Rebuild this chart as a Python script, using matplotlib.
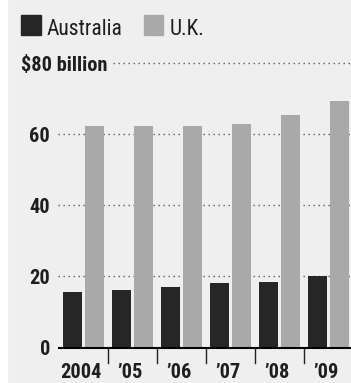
import matplotlib
matplotlib.use("Agg")
import matplotlib.pyplot as plt
from matplotlib.patches import Rectangle
import numpy as np

years = ["2004", "’05", "’06", "’07", "’08", "’09"]
australia = [15.6, 16.2, 17.1, 18.1, 18.5, 20.1]
uk = [62.4, 62.4, 62.2, 62.9, 65.5, 69.3]
yticks = [0, 20, 40, 60]
series_names = ["Australia", "U.K."]

plt.rcParams['font.family'] = ["Roboto Condensed", 'DejaVu Sans']

W, H = 351, 383
fig = plt.figure(figsize=(W/100, H/100), dpi=100)
fig.patch.set_facecolor("#efefef")
fig.patches.append(Rectangle((0, 0), 7/W, 1, transform=fig.transFigure, color="white", zorder=0))

DARK = "#262626"
LIGHT = "#a9a9a9"
TXT = "#1e1e1e"
PXU = (347.5 - 63) / 80.0  # pixels per data unit

left, right = 59, 351
bottom_px, top_px = 347.5, 63
ax = fig.add_axes([left/W, (H-bottom_px)/H, (right-left)/W, (bottom_px-top_px)/H])
ax.set_facecolor("none")
ax.set_zorder(2)
ax.set_xlim(-0.5, 5.46)
ax.set_ylim(0, 80)

x = np.arange(len(years))
bw = 0.39
off = 0.225
ax.bar(x - off, australia, width=bw, color=DARK, zorder=3)
ax.bar(x + off, uk, width=bw, color=LIGHT, zorder=3)

for s in ax.spines.values():
    s.set_visible(False)
ax.axhline(0, color="black", lw=1.5, zorder=4, clip_on=False)
ax.set_xticks([])
ax.set_yticks([])

FS = 14.7
DOT = (0, (1, 2.6))
for v in yticks[1:]:
    ax.plot([-0.52, 5.46], [v, v], color="#5a5a5a", lw=1.0, ls=DOT, zorder=1, clip_on=False)
for v in yticks:
    ax.text(-0.68, v - 7.4 / PXU, str(v), ha="right", va="baseline", fontsize=FS,
            fontweight="bold", color=TXT)
x80 = (113 - 83.5) / 49
ax.plot([x80, 5.46], [80, 80], color="#5a5a5a", lw=1.0, ls=DOT, zorder=1, clip_on=False)
ax.text(-0.5 - 38 / 49, 80 - 7.6 / PXU, "$80 billion", ha="left", va="baseline", fontsize=FS,
        fontweight="bold", color=TXT)

for i, lab in enumerate(years):
    ax.text(i - 0.05, -30.0 / PXU, lab, ha="center", va="baseline", fontsize=FS,
            fontweight="bold", color=TXT)
    if i < len(years) - 1:
        ax.plot([i + 0.5, i + 0.5], [0, -4.4], color="#222222", lw=1.0, clip_on=False, zorder=4)

# legend
fig.patches.append(Rectangle((21/W, 1 - 35/H), 20/W, 20/H, transform=fig.transFigure, color=DARK, zorder=2))
fig.text(47/W, 1 - 35/H, series_names[0], ha="left", va="baseline", fontsize=15.5, color=TXT)
fig.patches.append(Rectangle((144/W, 1 - 35/H), 19/W, 20/H, transform=fig.transFigure, color=LIGHT, zorder=2))
fig.text(170/W, 1 - 35/H, series_names[1], ha="left", va="baseline", fontsize=15.5, color=TXT)

fig.savefig("out.png", dpi=100)
